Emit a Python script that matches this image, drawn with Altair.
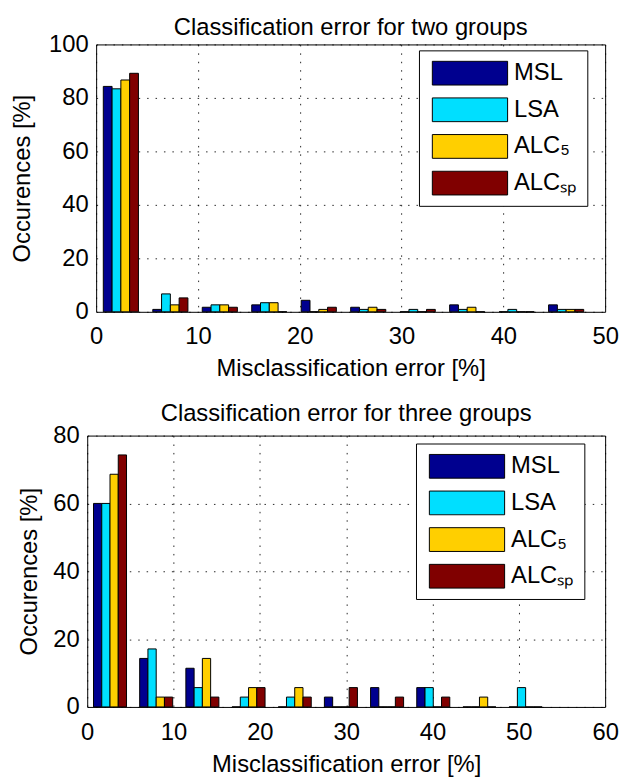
import altair as alt
import pandas as pd

FONT = "Liberation Sans"

series = ["MSL", "LSA", "ALC₅", "ALCₛₚ"]
colors = ["#00008F", "#00DFFF", "#FFCF00", "#800000"]

# ---- top panel: two groups ----
top_centers = [2.43, 7.29, 12.15, 17.01, 21.87, 26.73, 31.59, 36.45, 41.31, 46.17]
top_msl = [84.3, 0.9, 1.7, 2.6, 4.3, 1.7, 0.0, 2.6, 0.0, 2.6]
top_lsa = [83.4, 6.7, 2.6, 3.4, 0.0, 0.9, 0.9, 0.9, 0.9, 0.9]
top_alc5 = [86.7, 2.6, 2.6, 3.4, 0.9, 1.7, 0.0, 1.7, 0.0, 0.9]
top_alcsp = [89.2, 5.2, 1.7, 0.0, 1.7, 0.9, 0.9, 0.0, 0.0, 0.9]

# ---- bottom panel: three groups ----
bot_centers = [2.64, 7.99, 13.34, 18.69, 24.04, 29.39, 34.74, 40.09, 45.44, 50.79]
bot_msl = [60.0, 14.3, 11.4, 0.0, 0.0, 2.9, 5.7, 5.7, 0.0, 0.0]
bot_lsa = [60.0, 17.1, 5.7, 2.9, 2.9, 0.0, 0.0, 5.7, 0.0, 5.7]
bot_alc5 = [68.6, 2.9, 14.3, 5.7, 5.7, 0.0, 0.0, 0.0, 2.9, 0.0]
bot_alcsp = [74.3, 2.9, 2.9, 5.7, 2.9, 5.7, 2.9, 2.9, 0.0, 0.0]


def make_table(centers, values_by_series, group_frac):
    step = centers[1] - centers[0]
    gw = step * group_frac
    bw = gw / len(values_by_series)
    rows = []
    for i, (name, vals) in enumerate(zip(series, values_by_series)):
        for c, v in zip(centers, vals):
            x0 = c - gw / 2 + i * bw
            rows.append({"series": name, "x0": x0, "x1": x0 + bw, "value": v})
    return pd.DataFrame(rows)


top_df = make_table(top_centers, [top_msl, top_lsa, top_alc5, top_alcsp], 0.71)
bot_df = make_table(bot_centers, [bot_msl, bot_lsa, bot_alc5, bot_alcsp], 0.715)


def panel(df, title, xmax, ymax, w, h, shift, ytitle_pad, lx, ly,
          title_offset, title_dx, xlabpad):
    xscale = alt.Scale(domain=[0, xmax], nice=False, zero=False, range=[shift, w])
    yscale = alt.Scale(domain=[0, ymax], nice=False)
    legend = alt.Legend(
        orient="none", legendX=lx, legendY=ly, title=None,
        symbolType="M-1,-0.3158L1,-0.3158L1,0.3158L-1,0.3158Z",
        symbolSize=5776, symbolStrokeColor="black", symbolStrokeWidth=1,
        symbolOpacity=1, clipHeight=26,
        labelFont=FONT, labelFontSize=24, labelColor="black", labelOffset=6,
        padding=10, rowPadding=11, strokeColor="black", fillColor="white",
        symbolOffset=3, cornerRadius=0, labelLimit=400,
    )
    bars = alt.Chart(df).mark_bar(stroke="black", strokeWidth=1, opacity=1).encode(
        x=alt.X("x0:Q", scale=xscale,
                axis=alt.Axis(values=list(range(0, xmax + 1, 10)),
                              title="Misclassification error [%]",
                              labelFlush=False, labelOverlap=False,
                              labelPadding=xlabpad, titlePadding=8)),
        x2="x1:Q",
        y=alt.Y("value:Q", scale=yscale,
                axis=alt.Axis(values=list(range(0, ymax + 1, 20)),
                              title="Occurences [%]", labelPadding=8,
                              labelFlush=False, labelOverlap=False,
                              titlePadding=ytitle_pad, offset=-shift)),
        y2=alt.datum(0),
        color=alt.Color("series:N", scale=alt.Scale(domain=series, range=colors),
                        legend=legend),
    )
    frame = alt.Chart(df).mark_point(opacity=0).encode(
        x=alt.X("x0:Q", scale=xscale,
                axis=alt.Axis(orient="top", labels=False, ticks=False, grid=False,
                              title=None, domain=True)),
        y=alt.Y("value:Q", scale=yscale,
                axis=alt.Axis(orient="right", labels=False, ticks=False, grid=False,
                              title=None, domain=True)),
    )
    return alt.layer(bars, frame).resolve_axis(x="independent", y="independent").properties(
        width=w, height=h,
        title=alt.TitleParams(title, font=FONT, fontSize=24, fontWeight="normal",
                              color="black", anchor="middle", frame="group",
                              baseline="bottom", offset=title_offset, dx=title_dx),
    )


top = panel(top_df, "Classification error for two groups", 50, 100, 523, 270, 9,
            14, 335, 6, -31, 4.5, 13)
bottom = panel(bot_df, "Classification error for three groups", 60, 80, 523, 274, 0,
               11.3, 332, 8, -26, 0, 14)

chart = alt.vconcat(top, bottom, spacing=22).resolve_scale(
    color="independent"
).resolve_legend(color="independent").properties(
    padding={"left": 2, "top": 4, "right": 0, "bottom": 0}
).configure_view(
    stroke="transparent", strokeWidth=0
).configure_axis(
    domainColor="black", domainWidth=1, ticks=False,
    labelFont=FONT, labelFontSize=24, labelColor="black",
    titleFont=FONT, titleFontSize=24, titleFontWeight="normal", titleColor="black",
    grid=True, gridColor="black", gridDash=[1.5, 7], gridOpacity=0.85, gridWidth=1,
)

chart.save("out.html", embed_options={"renderer": "svg", "actions": False})
